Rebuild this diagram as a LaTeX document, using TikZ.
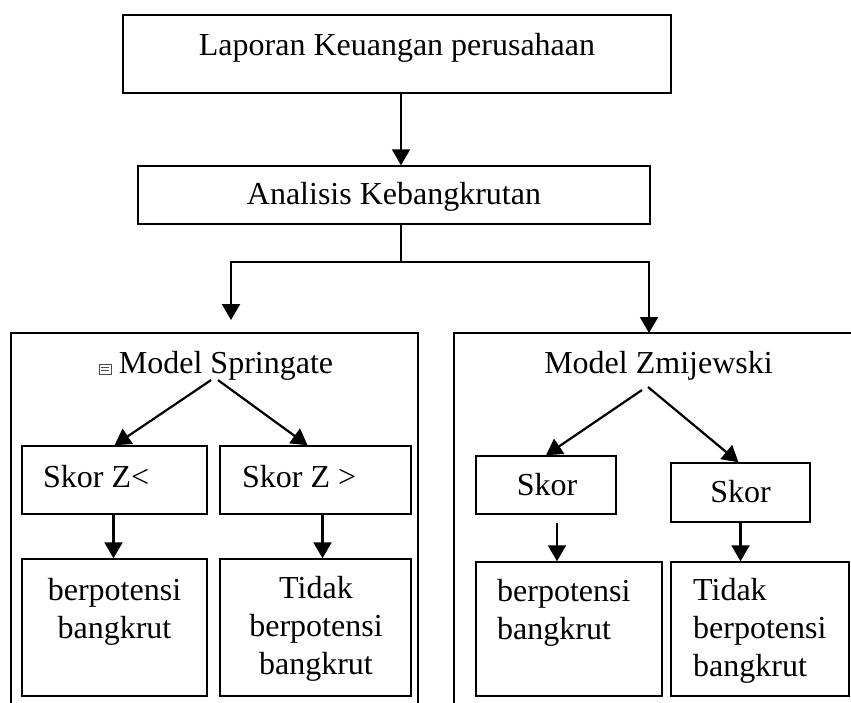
\documentclass[tikz,border=0pt]{standalone}
\usepackage{fontspec}
\setmainfont{Liberation Serif}
\usetikzlibrary{arrows.meta}

\begin{document}
\begin{tikzpicture}[x=1pt, y=-1pt,
    box/.style={draw, line width=1.5pt, inner sep=0pt},
    txt/.style={inner sep=0pt, font=\fontsize{32}{38}\selectfont},
    arr/.style={line width=2.2pt, -{Triangle[length=16pt,width=18pt]}},
    link/.style={line width=1.6pt}]
    \useasboundingbox (0,0) rectangle (851,702);
    \clip (0,0) rectangle (851,702);

    % Top boxes
    \node[box, minimum width=548pt, minimum height=78pt] (lapBox) at (397,54) {};
    \node[txt, anchor=base] (lapTxt) at (397,55) {Laporan Keuangan perusahaan};
    \node[box, minimum width=512pt, minimum height=58pt] (anaBox) at (394,195) {};
    \node[txt, anchor=base] (anaTxt) at (394,204) {Analisis Kebangkrutan};

    % Model frames (bottom runs off the page)
    \node[box, minimum width=407pt, minimum height=407pt] (sprBox) at (214.5,536.5) {};
    \node[box, minimum width=446pt, minimum height=407pt] (zmiBox) at (677,536.5) {};
    \node[txt, anchor=base] (sprTitle) at (226,373) {Model Springate};
    \node[txt, anchor=base] (zmiTitle) at (658.5,373) {Model Zmijewski};

    % small anchor icon
    \draw[gray!60!black, line width=0.6pt] (99,364) rectangle (111,374);
    \draw[gray!60!black, line width=0.5pt] (101,367) -- (109,367) (101,370.5) -- (109,370.5);

    % Split towards the two models
    \coordinate (split) at (401,262);
    \coordinate (sprIn) at (231,320);
    \coordinate (zmiIn) at (649,333);
    \draw[arr] ([xshift=4pt]lapBox.south) -- ([xshift=4pt]lapBox.south |- anaBox.north);
    \draw[link] ([xshift=7pt]anaBox.south) -- (split);
    \draw[arr] (split) -| (sprIn);
    \draw[arr] (split) -| (zmiIn);

    % Springate
    \node[box, minimum width=185pt, minimum height=68pt] (skorA) at (114.5,480) {};
    \node[txt, anchor=base west] (skorAtxt) at (43,487) {Skor Z<};
    \node[box, minimum width=191pt, minimum height=68pt] (skorB) at (315.5,480) {};
    \node[txt, anchor=base west] (skorBtxt) at (242,487) {Skor Z >};
    \node[box, minimum width=185pt, minimum height=137pt] (bpA) at (114.5,627.5) {};
    \node[txt, align=center, anchor=north] (bpAtxt) at (114.5,578) {berpotensi\\bangkrut};
    \node[box, minimum width=191pt, minimum height=137pt] (bpB) at (315.5,627.5) {};
    \node[txt, align=center, anchor=north] (bpBtxt) at (316,576) {Tidak\\berpotensi\\bangkrut};

    \draw[arr] ([xshift=-15pt]sprTitle.south) -- (skorA.north);
    \draw[arr] ([xshift=-8pt]sprTitle.south) -- ([xshift=-8pt]skorB.north);
    \draw[arr] ([xshift=-1pt]skorA.south) -- ([xshift=-1pt]skorA.south |- bpA.north);
    \draw[arr] ([xshift=7pt]skorB.south) -- ([xshift=7pt]skorB.south |- bpB.north);

    % Zmijewski
    \node[box, minimum width=140pt, minimum height=58pt] (skorC) at (546,485) {};
    \node[txt, anchor=base] (skorCtxt) at (547,495) {Skor};
    \node[box, minimum width=139pt, minimum height=59pt] (skorD) at (740.5,492.5) {};
    \node[txt, anchor=base] (skorDtxt) at (740.5,502) {Skor};
    \node[box, minimum width=186pt, minimum height=134pt] (bpC) at (569,629) {};
    \node[txt, align=left, anchor=north west] (bpCtxt) at (497,579) {berpotensi\\bangkrut};
    \node[box, minimum width=178pt, minimum height=134pt] (bpD) at (760,629) {};
    \node[txt, align=left, anchor=north west] (bpDtxt) at (693,578) {Tidak\\berpotensi\\bangkrut};

    \draw[arr] ([shift={(-16.5pt,-10pt)}]zmiTitle.south) -- (skorC.north);
    \draw[arr] ([shift={(-10.5pt,-7pt)}]zmiTitle.south) -- ([xshift=-2pt]skorD.north);
    \draw[arr] ([shift={(11pt,-8pt)}]skorC.south) -- ([xshift=11pt]skorC.south |- bpC.north);
    \draw[arr] (skorD.south) -- (skorD.south |- bpD.north);
\end{tikzpicture}
\end{document}
